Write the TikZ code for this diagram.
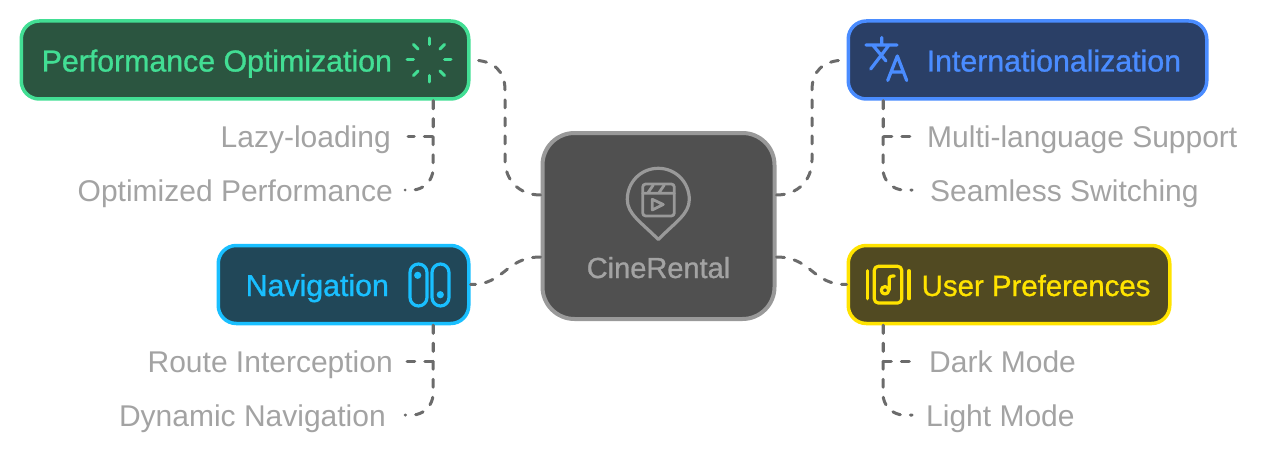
\documentclass[tikz,border=0pt]{standalone}
\usepackage{xcolor}
\usepackage{fontspec}
\setmainfont{Liberation Sans}
\newfontfamily\headfont{Liberation Sans}[FakeBold=1]
\usetikzlibrary{positioning}

\definecolor{perfline}{HTML}{42DE94}
\definecolor{perffill}{HTML}{2B5540}
\definecolor{intlline}{HTML}{4A8CFF}
\definecolor{intlfill}{HTML}{2A3F66}
\definecolor{navline}{HTML}{19BFFF}
\definecolor{navfill}{HTML}{214758}
\definecolor{userline}{HTML}{FFE300}
\definecolor{userfill}{HTML}{514A22}
\definecolor{hubline}{HTML}{999999}
\definecolor{hubfill}{HTML}{505050}
\definecolor{leaftext}{HTML}{A3A3A3}
\definecolor{linkgray}{HTML}{6B6B6B}

\begin{document}
\begin{tikzpicture}[
    x=1pt, y=-1pt,
    box/.style 2 args={rectangle, draw=#1, fill=#2, rounded corners=18pt, line width=3.5pt, minimum height=78pt, text=#1},
    headtext/.style={inner sep=0pt, font=\headfont\fontsize{30.3}{30}\selectfont, text height=23pt, text depth=0pt},
    leaftextleft/.style={anchor=east, inner sep=0pt, text=leaftext, font=\fontsize{30}{30}\selectfont, text height=22pt, text depth=0pt},
    leaftextright/.style={leaftextleft, anchor=west},
    link/.style={draw=linkgray, line width=3pt, line cap=round, dash pattern=on 8pt off 10pt},
    leaflink/.style={link, rounded corners=21pt},
    icon/.style={line width=3.2pt, line cap=round, line join=round}
]
    \useasboundingbox (0,0) rectangle (1262,452);

    % Central hub
    \node[rectangle, draw=hubline, fill=hubfill, rounded corners=32pt, line width=4pt, minimum width=232pt, minimum height=186pt] (hub) at (658.5,226) {};
    \node[inner sep=0pt, text=leaftext, font=\headfont\fontsize{29}{30}\selectfont, text height=22pt, text depth=0pt] (hublabel) at (658.5,267) {CineRental};

    % Four branches
    \node[box={perfline}{perffill}, minimum width=447.5pt] (perf) at (245,60) {};
    \node[headtext, text=perfline, right=22pt of perf.west] (perflabel) {Performance Optimization};
    \node[box={intlline}{intlfill}, minimum width=358.5pt] (intl) at (1027.5,60) {};
    \node[headtext, text=intlline, right=80pt of intl.west] (intllabel) {Internationalization};
    \node[box={navline}{navfill}, minimum width=250.5pt] (nav) at (343.5,284.5) {};
    \node[headtext, text=navline, right=29pt of nav.west] (navlabel) {Navigation};
    \node[box={userline}{userfill}, minimum width=321.5pt] (user) at (1009,284.5) {};
    \node[headtext, text=userline, font=\headfont\fontsize{29.4}{30}\selectfont, right=75pt of user.west] (userlabel) {User Preferences};

    % Leaf texts
    \node[leaftextleft, inner xsep=17pt] (lazy) at (408,136) {Lazy-loading};
    \node[leaftextleft, inner xsep=12pt] (optimized) at (405,190) {Optimized Performance};
    \node[leaftextleft, inner xsep=14pt] (route) at (407,361) {Route Interception};
    \node[leaftextleft, inner xsep=19pt] (dynamic) at (405,415) {Dynamic Navigation};
    \node[leaftextright, inner xsep=17pt] (multi) at (910,136) {Multi-language Support};
    \node[leaftextright, inner xsep=18pt] (seamless) at (912,190) {Seamless Switching};
    \node[leaftextright, inner xsep=18pt] (dark) at (911,361) {Dark Mode};
    \node[leaftextright, inner xsep=14pt] (light) at (912,415) {Light Mode};

    % Hub links
    \draw[link] ([yshift=31pt]hub.west) .. controls (519,195) and (505,180) .. (505,160) -- (505,90) .. controls (505,72) and (495,60) .. (perf.east);
    \draw[link] ([yshift=31pt]hub.east) .. controls (798,195) and (812,180) .. (812,160) -- (812,90) .. controls (812,72) and (822,60) .. (intl.west);
    \draw[link] ([yshift=-31pt]hub.west) .. controls (505,257) and (505,285) .. (nav.east);
    \draw[link] ([yshift=-31pt]hub.east) .. controls (812,257) and (812,285) .. (user.west);

    % Leaf links
    \draw[link] ([xshift=188pt]perf.south) |- (lazy.east);
    \draw[leaflink] ([xshift=188pt]perf.south) |- (optimized.east);
    \draw[link] ([xshift=89.5pt]nav.south) |- (route.east);
    \draw[leaflink] ([xshift=89.5pt]nav.south) |- (dynamic.east);
    \draw[link] ([xshift=-144.5pt]intl.south) |- (multi.west);
    \draw[leaflink] ([xshift=-144.5pt]intl.south) |- (seamless.west);
    \draw[link] ([xshift=-126pt]user.south) |- (dark.west);
    \draw[leaflink] ([xshift=-126pt]user.south) |- (light.west);

    % Spinner icon
    \foreach \a in {0,45,...,315} {
        \draw[icon, perfline, line width=3pt] (429,60) ++(\a:15.5) -- ++(\a:6.5);
    }

    % Translate icon
    \draw[icon, intlline] (866,45) -- (897,45) (881.7,37.5) -- (881.7,45) (872.7,45) -- (886,61) (888.3,46) -- (870.7,69);
    \draw[icon, intlline] (887.7,80.5) -- (897.3,56) -- (906.7,80.5) (891,72) -- (903.5,72);

    % Music icon
    \draw[icon, userline] (867.3,270.7) -- (867.3,298.7) (909,270.7) -- (909,298.7);
    \draw[icon, userline, rounded corners=4pt] (874.3,266.3) rectangle (901.7,303);
    \draw[icon, userline] (889.3,290) -- (889.3,278) .. controls (889.3,276.5) and (891,276) .. (894.3,276);
    \draw[icon, userline] (885,290.3) circle (3.7pt);

    % Switch icon
    \draw[icon, navline, rounded corners=8.5pt] (410,264) rectangle (427,306);
    \draw[icon, navline, rounded corners=8.5pt] (432,264) rectangle (449,306);
    \fill[navline] (417.7,275.3) circle (3.6pt) (440.3,294.7) circle (3.6pt);

    % Pin and clapper icon
    \draw[icon, hubline] (658.3,239.5) .. controls (641,222) and (627.3,214) .. (627.3,199.5) .. controls (627.3,182) and (641,168.3) .. (658.3,168.3) .. controls (675.5,168.3) and (689.3,182) .. (689.3,199.5) .. controls (689.3,214) and (675.5,222) .. (658.3,239.5) -- cycle;
    \draw[icon, hubline, line width=2.8pt, rounded corners=3pt] (642.7,184) rectangle (674.3,216);
    \draw[icon, hubline, line width=2.8pt] (642.7,193.3) -- (674.3,193.3) (648.3,192.3) -- (653.3,185) (659.3,192.3) -- (664.3,185);
    \draw[icon, hubline, line width=2.8pt] (652.3,199.3) -- (663.3,204.5) -- (652.3,210) -- cycle;
\end{tikzpicture}
\end{document}
